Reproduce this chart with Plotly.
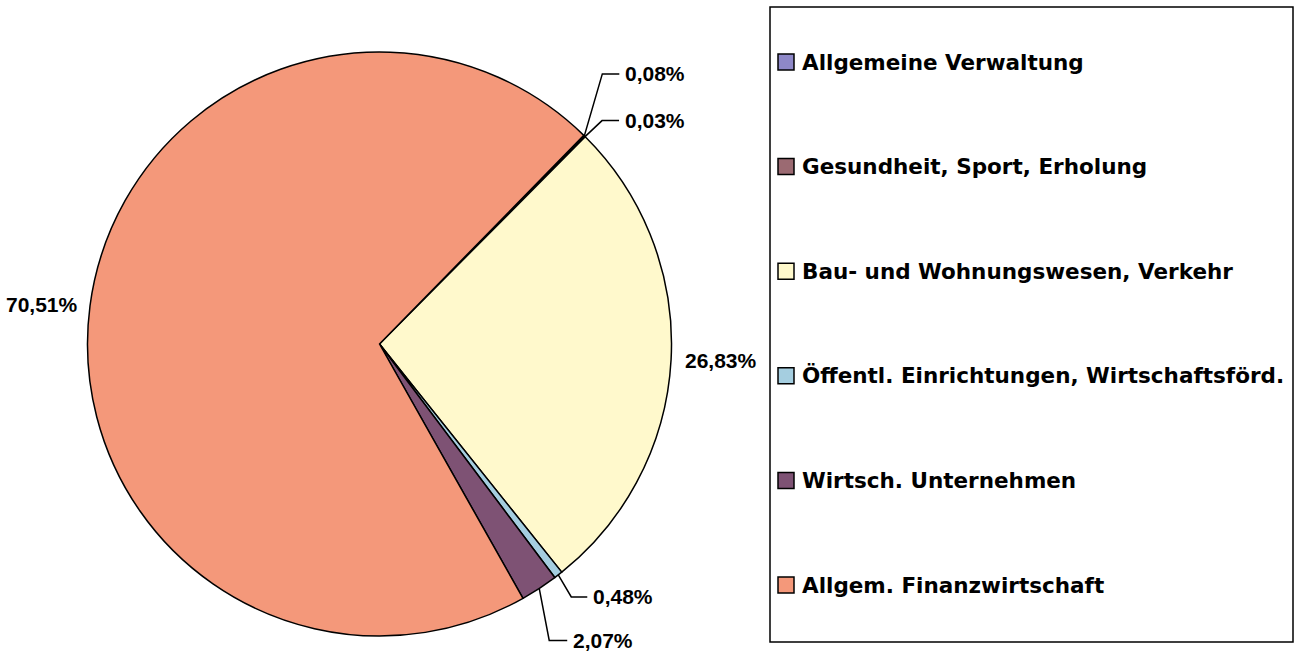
import math
import plotly.graph_objects as go

# ---------------- data ----------------
categories = [
    "Allgemeine Verwaltung",
    "Gesundheit, Sport, Erholung",
    "Bau- und Wohnungswesen, Verkehr",
    "Öffentl. Einrichtungen, Wirtschaftsförd.",
    "Wirtsch. Unternehmen",
    "Allgem. Finanzwirtschaft",
]
shares = [0.08, 0.03, 26.83, 0.48, 2.07, 70.51]
colors = ["#8E88C8", "#9B6A72", "#FFF9CC", "#A5CEE0", "#7E5274", "#F4987A"]

# ---------------- layout constants ----------------
W, H = 1304, 653
CX, CY, R = 379.5, 344.0, 292.0      # pie centre / radius in page pixels
START = 44.4                          # first slice starts here (deg clockwise from 12 o'clock)
FONT = "Liberation Sans, Arial, sans-serif"
LEGEND_FONT = "DejaVu Sans, Liberation Sans, sans-serif"
LABEL_SIZE = 21
LEGEND_SIZE = 21.5

# label placement per slice: leader-line labels (elbow offset, run) or radial gap labels
label_style = [
    dict(elbow=(18, -62), run=17),
    dict(elbow=(17, -16), run=17),
    dict(gap=12),
    dict(elbow=(13, 22), run=16),
    dict(elbow=(10, 52), run=18),
    dict(gap=10),
]


def px(x):
    return x / W


def py(y):
    return 1 - y / H


def fmt(v):
    return f"{v:.2f}".replace(".", ",") + "%"


fig = go.Figure()
fig.add_trace(go.Pie(
    labels=categories,
    values=shares,
    sort=False,
    direction="clockwise",
    rotation=START,
    textinfo="none",
    hoverinfo="label+percent",
    marker=dict(colors=colors, line=dict(color="black", width=1.5)),
    domain=dict(x=[px(CX - R), px(CX + R)], y=[py(CY + R), py(CY - R)]),
    showlegend=False,
))

shapes = []
annotations = []

total = sum(shares)
cum = 0.0
for i, v in enumerate(shares):
    mid = START + (cum + v / 2) / total * 360.0
    cum += v
    a = math.radians(mid)
    ex, ey = CX + R * math.sin(a), CY - R * math.cos(a)
    st = label_style[i]
    if "elbow" in st:
        bx, by = ex + st["elbow"][0], ey + st["elbow"][1]
        cx2 = bx + st["run"]
        shapes.append(dict(type="path", xref="paper", yref="paper",
                           path=f"M {px(ex)},{py(ey)} L {px(bx)},{py(by)} L {px(cx2)},{py(by)}",
                           line=dict(color="black", width=1.5)))
        annotations.append(dict(x=px(cx2 + 4), y=py(by), xref="paper", yref="paper",
                                text=f"<b>{fmt(v)}</b>", showarrow=False,
                                xanchor="left", yanchor="middle",
                                font=dict(family=FONT, size=LABEL_SIZE, color="black")))
    else:
        g = st["gap"]
        tx, ty = ex + g * math.sin(a), ey - g * math.cos(a)
        annotations.append(dict(x=px(tx), y=py(ty), xref="paper", yref="paper",
                                text=f"<b>{fmt(v)}</b>", showarrow=False,
                                xanchor="left" if math.sin(a) > 0 else "right",
                                yanchor="middle",
                                font=dict(family=FONT, size=LABEL_SIZE, color="black")))

# ---------------- manual legend ----------------
LX0, LY0, LX1, LY1 = 770, 7, 1293, 642
shapes.append(dict(type="rect", xref="paper", yref="paper",
                   x0=px(LX0), x1=px(LX1), y0=py(LY1), y1=py(LY0),
                   line=dict(color="black", width=1.5), fillcolor="white", layer="below"))
ITEM_Y0, ITEM_STEP, SQ = 62.0, 104.6, 16
for i, (name, col) in enumerate(zip(categories, colors)):
    yc = ITEM_Y0 + i * ITEM_STEP
    shapes.append(dict(type="rect", xref="paper", yref="paper",
                       x0=px(778), x1=px(778 + SQ), y0=py(yc + SQ / 2), y1=py(yc - SQ / 2),
                       line=dict(color="black", width=1.5), fillcolor=col))
    annotations.append(dict(x=px(800), y=py(yc), xref="paper", yref="paper",
                            text=f"<b>{name}</b>", showarrow=False,
                            xanchor="left", yanchor="middle",
                            font=dict(family=LEGEND_FONT, size=LEGEND_SIZE, color="black")))

fig.update_layout(
    width=W, height=H,
    margin=dict(l=0, r=0, t=0, b=0),
    paper_bgcolor="white", plot_bgcolor="white",
    shapes=shapes, annotations=annotations,
    showlegend=False,
)

# remove the page's default 8px body margin so the figure fills the window exactly
fig.write_html(
    "out.html",
    config={"displayModeBar": False},
    post_script="document.body.style.margin='0';document.body.style.overflow='hidden';",
)
